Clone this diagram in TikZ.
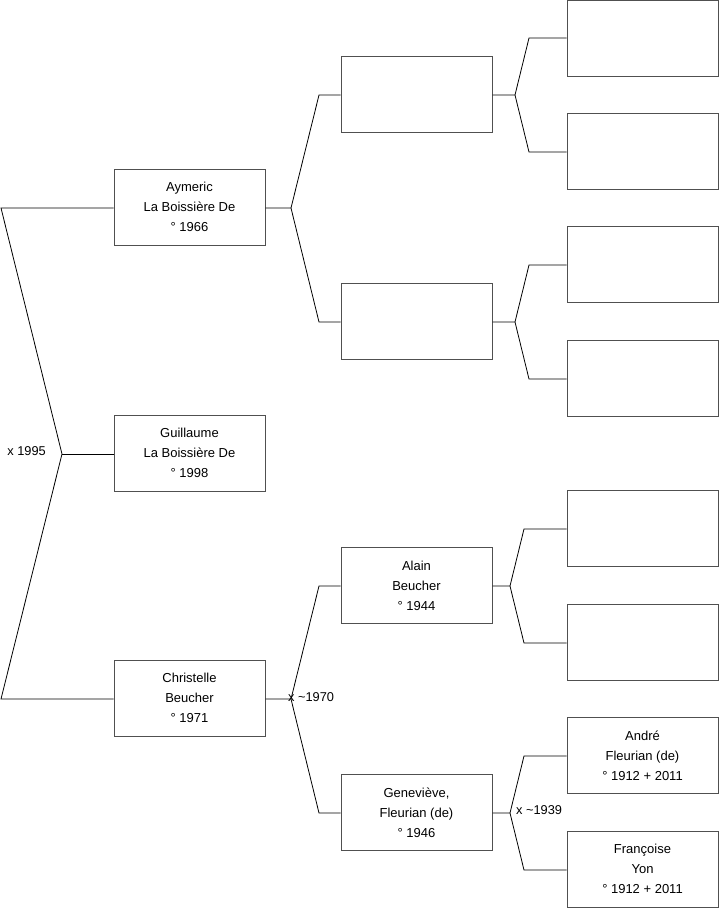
\documentclass[tikz,border=0pt]{standalone}
\usepackage{fontspec}
\setmainfont{Liberation Sans}
\definecolor{boxgray}{RGB}{80,80,80}
\begin{document}
\begin{tikzpicture}[x=1pt,y=-1pt,
  person/.style={draw=boxgray, line width=1pt, minimum width=151pt, minimum height=76pt,
    align=center, inner sep=0pt, font=\fontsize{13}{20}\selectfont},
  link/.style={draw=black, line width=0.8pt},
  lbl/.style={inner sep=0pt, font=\fontsize{12.8}{14}\selectfont}]
\useasboundingbox (0,0) rectangle (719,908);

% generation 1
\node[person] (aym) at (189.5,207) {Aymeric\\La Boissière De\\° 1966};
\node[person] (gui) at (189.5,453) {Guillaume\\La Boissière De\\° 1998};
\node[person] (chr) at (189.5,698) {Christelle\\Beucher\\° 1971};

% generation 2
\node[person] (pa) at (416.5,94.5) {};
\node[person] (pb) at (416.5,321.5) {};
\node[person] (ala) at (416.5,585.5) {Alain\\Beucher\\° 1944};
\node[person] (gen) at (416.5,812.5) {Geneviève,\\Fleurian (de)\\° 1946};

% generation 3
\node[person] (g1) at (642.5,38) {};
\node[person] (g2) at (642.5,151.5) {};
\node[person] (g3) at (642.5,264.5) {};
\node[person] (g4) at (642.5,378.5) {};
\node[person] (g5) at (642.5,528.5) {};
\node[person] (g6) at (642.5,642.5) {};
\node[person] (g7) at (642.5,755.5) {André\\Fleurian (de)\\° 1912 + 2011};
\node[person] (g8) at (642.5,869) {Françoise\\Yon\\° 1912 + 2011};

% junction coordinates
\coordinate (L1) at (1,208);
\coordinate (J0) at (62,454);
\coordinate (L2) at (1,699);
\coordinate (J1) at (291,208);
\coordinate (B1a) at (319,95);
\coordinate (B1b) at (319,322);
\coordinate (J2) at (515,95);
\coordinate (B2a) at (529,38);
\coordinate (B2b) at (529,152);
\coordinate (J3) at (515,322);
\coordinate (B3a) at (529,265);
\coordinate (B3b) at (529,379);
\coordinate (J4) at (291,699);
\coordinate (B4a) at (319,586);
\coordinate (B4b) at (319,813);
\coordinate (J5) at (510,586);
\coordinate (B5a) at (524,529);
\coordinate (B5b) at (524,643);
\coordinate (J6) at (510,813);
\coordinate (B6a) at (524,756);
\coordinate (B6b) at (524,870);

% connectors
\draw[link] (aym.west |- L1) -- (L1) -- (J0) -- (L2) -- (chr.west |- L2);
\draw[link] (J0) -- (gui.west |- J0);

\draw[link] (aym.east |- J1) -- (J1) -- (B1a) -- (pa.west |- B1a);
\draw[link] (J1) -- (B1b) -- (pb.west |- B1b);

\draw[link] (pa.east |- J2) -- (J2) -- (B2a) -- (g1.west |- B2a);
\draw[link] (J2) -- (B2b) -- (g2.west |- B2b);
\draw[link] (pb.east |- J3) -- (J3) -- (B3a) -- (g3.west |- B3a);
\draw[link] (J3) -- (B3b) -- (g4.west |- B3b);

\draw[link] (chr.east |- J4) -- (J4) -- (B4a) -- (ala.west |- B4a);
\draw[link] (J4) -- (B4b) -- (gen.west |- B4b);

\draw[link] (ala.east |- J5) -- (J5) -- (B5a) -- (g5.west |- B5a);
\draw[link] (J5) -- (B5b) -- (g6.west |- B5b);
\draw[link] (gen.east |- J6) -- (J6) -- (B6a) -- (g7.west |- B6a);
\draw[link] (J6) -- (B6b) -- (g8.west |- B6b);

% marriage labels
\node[lbl, anchor=east] (m1) at (46,451) {x 1995};
\node[lbl, anchor=west] (m2) at (288,697) {x \textasciitilde1970};
\node[lbl, anchor=west] (m3) at (516,810) {x \textasciitilde1939};
\end{tikzpicture}
\end{document}
